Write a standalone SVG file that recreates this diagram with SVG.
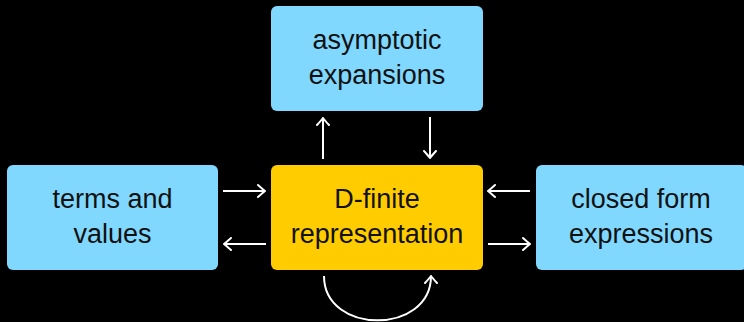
<svg xmlns="http://www.w3.org/2000/svg" width="744" height="322" viewBox="0 0 744 322">
<style>
.box{fill:#80d8ff}
.main{fill:#ffcc00}
.t{font-family:"Liberation Sans",Arial,sans-serif;font-size:27px;fill:#111111;text-anchor:middle}
.c{fill:none;stroke:#ffffff;stroke-width:2}
</style>
<defs>
<marker id="ah" viewBox="-9 -8 10 16" refX="0" refY="0" markerWidth="10" markerHeight="16" markerUnits="userSpaceOnUse" orient="auto">
<path d="M-7,-6 Q-2,-1.5 0,0 Q-2,1.5 -7,6" fill="none" stroke="#ffffff" stroke-width="2" stroke-linecap="round"/>
</marker>
</defs>
<rect width="744" height="322" fill="#000000"/>
<g id="asymptotic">
<rect class="box" x="271" y="6" width="212" height="105" rx="6"/>
<text class="t" x="377" y="49">asymptotic</text>
<text class="t" x="377" y="84">expansions</text>
</g>
<g id="terms">
<rect class="box" x="7" y="165" width="211" height="105" rx="6"/>
<text class="t" x="112.5" y="208">terms and</text>
<text class="t" x="112.5" y="243">values</text>
</g>
<g id="dfinite">
<rect class="main" x="271" y="165" width="212" height="105" rx="6"/>
<text class="t" x="377" y="208">D-finite</text>
<text class="t" x="377" y="243">representation</text>
</g>
<g id="closed">
<rect class="box" x="536" y="165" width="211" height="105" rx="6"/>
<text class="t" x="641" y="208">closed form</text>
<text class="t" x="641" y="243">expressions</text>
</g>
<g id="connectors">
<line class="c" x1="223" y1="191" x2="265" y2="191" marker-end="url(#ah)"/>
<line class="c" x1="266" y1="244" x2="224" y2="244" marker-end="url(#ah)"/>
<line class="c" x1="530" y1="191" x2="488" y2="191" marker-end="url(#ah)"/>
<line class="c" x1="488" y1="244" x2="530" y2="244" marker-end="url(#ah)"/>
<line class="c" x1="323" y1="159" x2="323" y2="118" marker-end="url(#ah)"/>
<line class="c" x1="430" y1="117" x2="430" y2="158" marker-end="url(#ah)"/>
<path class="c" d="M324,276 C324,335 431,335 431,276" marker-end="url(#ah)"/>
</g>
</svg>
